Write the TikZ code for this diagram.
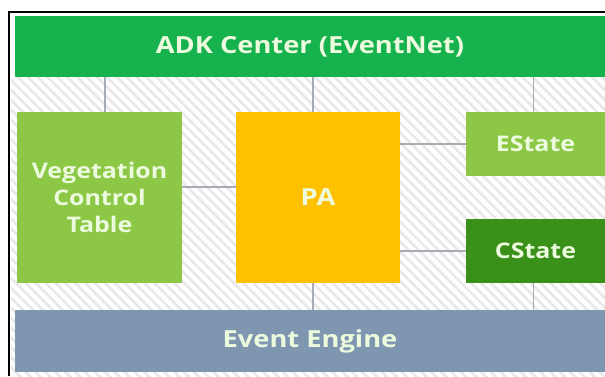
\documentclass[tikz,border=0pt]{standalone}
\usepackage{fontspec}
\setmainfont{Open Sans}
\newfontfamily\lblfont[FakeStretch=1.16]{Open Sans}
\usetikzlibrary{patterns.meta,calc}
\definecolor{adkgreen}{RGB}{22,178,78}
\definecolor{leaf}{RGB}{140,200,70}
\definecolor{paorange}{RGB}{255,192,0}
\definecolor{darkleaf}{RGB}{58,145,26}
\definecolor{slate}{RGB}{127,150,176}
\definecolor{wire}{RGB}{165,172,182}
\definecolor{hatch}{RGB}{232,232,232}
\definecolor{txt}{RGB}{236,250,222}
\begin{document}
\begin{tikzpicture}[x=1pt,y=-1pt,
  blockbox/.style={draw=none,inner sep=0pt,outer sep=0pt,text=txt,align=center},
  bigtext/.style={font=\lblfont\bfseries\fontsize{23.5}{27}\selectfont},
  smalltext/.style={font=\lblfont\bfseries\fontsize{21.5}{27}\selectfont},
  wireline/.style={draw=wire,line width=1.6pt}]
\useasboundingbox (0,0) rectangle (605,376);
\fill[white] (0,0) rectangle (605,376);
% hatched background
\fill[pattern={Lines[angle=-45,distance=7pt,line width=2.6pt]},pattern color=hatch] (11,77) rectangle (605,376);
% frame
\draw[black,line width=2.4pt] (9.2,376) -- (9.2,12.2) -- (605,12.2);
% blocks
\node[blockbox,bigtext,fill=adkgreen,minimum width=590pt,minimum height=61pt,anchor=north west] (adk) at (15,16) {ADK Center (EventNet)};
\node[blockbox,smalltext,fill=leaf,minimum width=165pt,minimum height=171pt,anchor=north west] (veg) at (17,112) {Vegetation\\Control\\Table};
\node[blockbox,bigtext,fill=paorange,minimum width=164pt,minimum height=171pt,anchor=north west] (pa) at (236,112) {PA};
\node[blockbox,smalltext,fill=leaf,minimum width=139pt,minimum height=64pt,anchor=north west] (es) at (466,112) {EState};
\node[blockbox,smalltext,fill=darkleaf,minimum width=139pt,minimum height=64pt,anchor=north west] (cs) at (466,219) {CState};
\node[blockbox,bigtext,fill=slate,minimum width=590pt,minimum height=62pt,anchor=north west] (ee) at (15,310) {Event Engine};
% connectors
\draw[wireline] ([xshift=5.5pt]veg.north) -- ([xshift=5.5pt]veg.north |- adk.south);
\draw[wireline] ([xshift=-5pt]pa.north) -- ([xshift=-5pt]pa.north |- adk.south);
\draw[wireline] ([xshift=-2pt]es.north) -- ([xshift=-2pt]es.north |- adk.south);
\draw[wireline] ([yshift=10.5pt]veg.east) -- ([yshift=10.5pt]veg.east -| pa.west);
\draw[wireline] (es.west) -- (es.west -| pa.east);
\draw[wireline] (cs.west) -- (cs.west -| pa.east);
\draw[wireline] ([xshift=-5pt]pa.south) -- ([xshift=-5pt]pa.south |- ee.north);
\draw[wireline] ([xshift=-2pt]cs.south) -- ([xshift=-2pt]cs.south |- ee.north);
\end{tikzpicture}
\end{document}
